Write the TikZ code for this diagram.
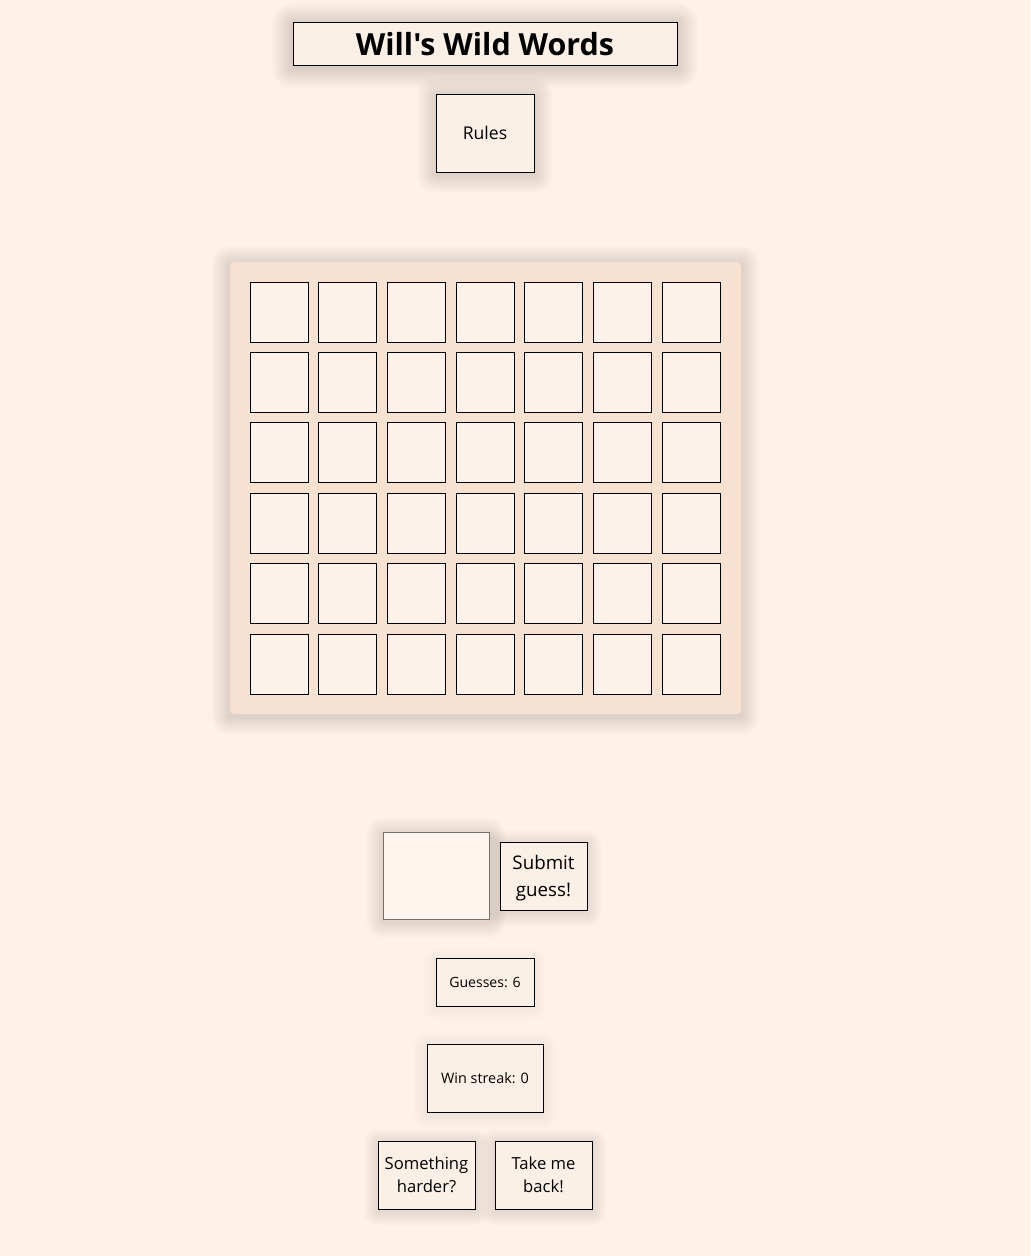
\documentclass[tikz,border=0pt]{standalone}
\usepackage{fontspec}
\setmainfont{Open Sans}
\newfontfamily\titlefont{Open Sans}
\usetikzlibrary{backgrounds}
\definecolor{pagebg}{HTML}{FDF1E8}
\definecolor{panelbg}{HTML}{F7E2D2}
\definecolor{cellbg}{HTML}{FCF2EA}
\definecolor{boxbg}{HTML}{FBF0E6}
\definecolor{entrybg}{HTML}{FDF4ED}
\tikzset{>=latex}
\tikzset{every text node part/.style={align=center}}
\tikzset{
	btn/.style={draw=black, fill=boxbg, line width=0.7pt, inner sep=0pt},
	cell/.style={draw=black, fill=cellbg, line width=0.7pt, inner sep=0pt, minimum width=\px{58}, minimum height=\px{60}}
}
\newcommand{\px}[1]{#1*0.03cm}
% soft shadow round a node: #1 node, #2 spread in pt, #3 opacity per ring
\newcommand{\dropshade}[3]{%
	\foreach \k in {1,...,#2}
	{
		\fill[black, opacity=#3, rounded corners=\k pt] ([shift={(-\k pt,\k pt-2pt)}]#1.north west) rectangle ([shift={(\k pt,-\k pt-2pt)}]#1.south east);
	}
}

\begin{document}
\begin{tikzpicture}[x=0.03cm, y=-0.03cm]

	% Header
	\node[btn, minimum width=\px{384}, minimum height=\px{43}, text depth=0pt, font=\titlefont\bfseries\fontsize{26}{30}\selectfont] (title) at (485,43.5) {Will's Wild Words};
	\node[btn, minimum width=\px{98}, minimum height=\px{78}, font=\fontsize{15}{18}\selectfont] (rules) at (485,133) {Rules};

	% Board
	\node[fill=panelbg, rounded corners=4pt, inner sep=0pt, minimum width=\px{511}, minimum height=\px{452}] (board) at (485.5,488) {};
	\foreach \r in {0,...,5}
	{
		\foreach \c in {0,...,6}
		{
			\node[cell] (cell-\r-\c) at ({279+68.67*\c},{312+70.4*\r}) {};
		}
	}

	% Guess entry
	\node[btn, draw=black!55, fill=entrybg, minimum width=\px{106}, minimum height=\px{87}] (entry) at (436,875.5) {};
	\node[btn, minimum width=\px{87}, minimum height=\px{68}, font=\fontsize{16}{22}\selectfont] (submit) at (543.5,876) {};
	\node[font=\fontsize{16}{22}\selectfont, inner sep=0pt] (submit-text) at ([yshift=-\px{2.5}]submit.center) {Submit\\[1pt]guess!};

	% Counters
	\node[btn, minimum width=\px{98}, minimum height=\px{48}, font=\fontsize{12}{14}\selectfont] (guesses) at (485,982.5) {Guesses: 6};
	\node[btn, minimum width=\px{116}, minimum height=\px{68}, font=\fontsize{12.3}{14}\selectfont] (streak) at (485,1078.5) {Win streak: 0};

	% Bottom buttons
	\node[btn, minimum width=\px{97}, minimum height=\px{68}, font=\fontsize{14.2}{19}\selectfont] (harder) at (426.5,1175) {Something\\[1pt]harder?};
	\node[btn, minimum width=\px{97}, minimum height=\px{68}, font=\fontsize{14.2}{19}\selectfont] (back) at (543.5,1175) {Take me\\[1pt]back!};

	% Page and shadows
	\begin{pgfonlayer}{background}
		\fill[pagebg] (0,0) rectangle (1030,1256);
		\dropshade{title}{18}{0.006}
		\dropshade{rules}{16}{0.006}
		\dropshade{board}{16}{0.007}
		\dropshade{entry}{14}{0.007}
		\dropshade{submit}{12}{0.006}
		\dropshade{guesses}{10}{0.005}
		\dropshade{streak}{12}{0.005}
		\dropshade{harder}{12}{0.006}
		\dropshade{back}{12}{0.006}
	\end{pgfonlayer}
	\useasboundingbox (0,0) rectangle (1030,1256);

\end{tikzpicture}
\end{document}
